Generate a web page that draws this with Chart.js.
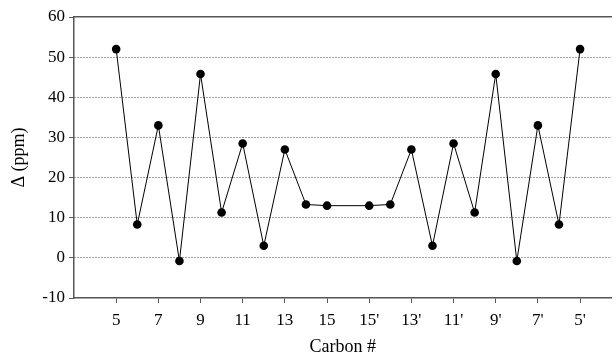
<!DOCTYPE html>
<html>
<head>
<meta charset="utf-8">
<script src="https://cdn.jsdelivr.net/npm/chart.js@4"></script>
<style>
  html, body { margin: 0; padding: 0; background: #fff; }
  #wrap { width: 616px; height: 361px; }
</style>
</head>
<body>
<div id="wrap"><canvas id="chart"></canvas></div>
<script>
// Carbon positions (one blank slot between 15 and 15')
const carbons = ['5', '6', '7', '8', '9', '10', '11', '12', '13', '14', '15', '',
                 "15'", "14'", "13'", "12'", "11'", "10'", "9'", "8'", "7'", "6'", "5'"];
// Delta (ppm) values
const deltas = [52, 8.3, 33, -0.8, 45.8, 11.3, 28.5, 3, 27, 13.3, 13, null,
                13, 13.3, 27, 3, 28.5, 11.3, 45.8, -0.8, 33, 8.3, 52];
// labelled positions: 5,7,...,15 and 15',13',...,5'
const xTickIdx = [0, 2, 4, 6, 8, 10, 12, 14, 16, 18, 20, 22];
const yTicks = [-10, 0, 10, 20, 30, 40, 50, 60];

const axisColor = '#555';
const serifFamily = 'Liberation Serif, Times New Roman, serif';

const points = [];
deltas.forEach((v, i) => {
    if (v !== null) points.push({ x: i, y: v });
});

new Chart(document.getElementById('chart'), {
    type: 'line',
    data: {
        datasets: [{
            data: points,
            borderColor: '#000',
            borderWidth: 1,
            backgroundColor: '#000',
            pointRadius: 4.3,
            pointBorderWidth: 0,
            tension: 0
        }]
    },
    options: {
        responsive: true,
        maintainAspectRatio: false,
        animation: false,
        layout: { padding: { top: 17, right: 1, left: 0, bottom: 0 } },
        plugins: {
            legend: { display: false },
            tooltip: { enabled: false }
        },
        scales: {
            x: {
                type: 'linear',
                min: -2,
                max: 23.5,
                afterBuildTicks: (scale) => {
                    scale.ticks = xTickIdx.map(v => ({ value: v }));
                },
                afterFit: (scale) => { scale.height = 63; },
                grid: {
                    drawOnChartArea: false,
                    drawTicks: true,
                    tickLength: 5,
                    tickColor: axisColor
                },
                border: { color: axisColor, width: 1.5 },
                ticks: {
                    autoSkip: false,
                    maxRotation: 0,
                    padding: 7,
                    color: '#000',
                    font: { family: serifFamily, size: 17 },
                    callback: (v) => carbons[v]
                },
                title: {
                    display: true,
                    text: 'Carbon #',
                    color: '#000',
                    font: { family: serifFamily, size: 18 },
                    padding: { top: 0, bottom: 3 }
                }
            },
            xTop: {
                type: 'linear',
                position: 'top',
                min: -2,
                max: 23.5,
                afterFit: (scale) => { scale.height = 0; },
                grid: { display: false, drawTicks: false },
                border: { display: true, color: axisColor, width: 1.5 },
                ticks: { display: false }
            },
            y: {
                min: -10,
                max: 60,
                afterBuildTicks: (scale) => {
                    scale.ticks = yTicks.map(v => ({ value: v }));
                },
                afterFit: (scale) => { scale.width = 74; },
                grid: {
                    color: (ctx) => (ctx.tick && (ctx.tick.value === 60 || ctx.tick.value === -10)) ? 'rgba(0,0,0,0)' : '#444',
                    lineWidth: 1,
                    drawTicks: true,
                    tickLength: 5,
                    tickColor: axisColor,
                    tickBorderDash: [1, 0]
                },
                border: { color: axisColor, width: 1.5, dash: [1, 2] },
                ticks: {
                    padding: 4,
                    color: '#000',
                    font: { family: serifFamily, size: 17 }
                },
                title: {
                    display: true,
                    text: 'Δ (ppm)',
                    color: '#000',
                    font: { family: serifFamily, size: 18 },
                    padding: { top: 8, bottom: 0 }
                }
            }
        }
    }
});
</script>
</body>
</html>
